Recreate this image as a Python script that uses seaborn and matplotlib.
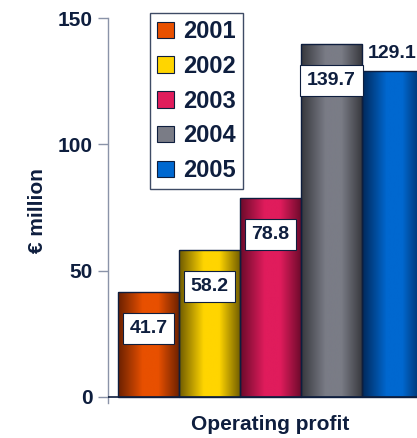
import matplotlib
matplotlib.use("Agg")
import matplotlib.pyplot as plt
import seaborn as sns
import pandas as pd
import numpy as np
from matplotlib.colors import LinearSegmentedColormap
from matplotlib.patches import Patch

# data
years = ["2001", "2002", "2003", "2004", "2005"]
profit = [41.7, 58.2, 78.8, 139.7, 129.1]
category = ["Operating profit"] * 5
base_colors = ["#E85000", "#FFD500", "#E01C5C", "#7A7C86", "#0068D0"]
dark_colors = ["#6A2000", "#6E5A00", "#6A0A2A", "#36373C", "#00285A"]

navy = "#0E1E3E"
sns.set_style("white")
plt.rcParams["font.family"] = ["Liberation Sans", "DejaVu Sans"]
plt.rcParams["font.weight"] = "bold"

df = pd.DataFrame({"cat": category, "year": years, "profit": profit})

fig = plt.figure(figsize=(4.17, 4.38), dpi=100)
ax = fig.add_axes([108 / 417, 35 / 438, 325 / 417, 385 / 438])

sns.barplot(data=df, x="cat", y="profit", hue="year", palette=base_colors,
            width=0.8, legend=False, ax=ax, edgecolor=navy, linewidth=1.0)

# cylinder-like horizontal shading on each bar
grad = np.linspace(0, 1, 256).reshape(1, -1)
for cont, base, dark in zip(ax.containers, base_colors, dark_colors):
    cmap = LinearSegmentedColormap.from_list(
        "g", [(0, dark), (0.4, base), (0.65, base), (1.0, dark)])
    for bar in cont:
        x0, y0 = bar.get_x(), bar.get_y()
        w, h = bar.get_width(), bar.get_height()
        im = ax.imshow(grad, cmap=cmap, aspect="auto",
                       extent=[x0, x0 + w, y0, y0 + h], zorder=2)
        im.set_clip_path(bar)
        bar.set_facecolor("none")
        bar.set_zorder(3)

ax.set_xlim(-0.426, 0.426)
ax.set_ylim(-2.4, 150)
ax.set_yticks([0, 50, 100, 150])
ax.axhline(0, color=navy, lw=1.2, zorder=4)

for s in ["top", "right", "bottom"]:
    ax.spines[s].set_visible(False)
ax.spines["left"].set_color("#8A93A8")
ax.spines["left"].set_linewidth(1.0)
ax.tick_params(axis="y", left=True, length=7, width=1.0, color="#8A93A8",
               labelsize=15, labelcolor=navy, pad=4)
ax.tick_params(axis="x", bottom=False, labelsize=15, labelcolor=navy, pad=5)
ax.set_xlabel("")
ax.set_ylabel("€ million", fontsize=15, color=navy, fontweight="bold", labelpad=8)

# value labels
xs = [bar.get_x() + bar.get_width() / 2 for cont in ax.containers for bar in cont]
box = dict(boxstyle="square,pad=0.35", fc="white", ec=navy, lw=0.8)
for i, (x, v) in enumerate(zip(xs, profit)):
    if i == len(profit) - 1:
        ax.text(x, v + 7, f"{v:.1f}", ha="center", va="center",
                fontsize=14, color=navy, fontweight="bold", zorder=6)
    else:
        ax.text(x, v - 14.5, f"{v:.1f}", ha="center", va="center",
                fontsize=14, color=navy, fontweight="bold", bbox=box, zorder=6)

handles = [Patch(facecolor=c, edgecolor=navy, linewidth=0.8) for c in base_colors]
leg = ax.legend(handles, years, loc="upper left", bbox_to_anchor=(0.129, 1.013),
                borderaxespad=0, fancybox=False, frameon=True, fontsize=17,
                handlelength=0.7, handleheight=0.7, handletextpad=0.4,
                labelspacing=0.5, borderpad=0.3)
leg.get_frame().set_edgecolor(navy)
leg.get_frame().set_linewidth(1.0)
for t in leg.get_texts():
    t.set_color(navy)
    t.set_fontweight("bold")

fig.savefig("out.png", dpi=100)
